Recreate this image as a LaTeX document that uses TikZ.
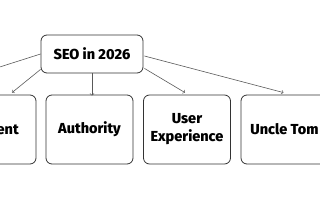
\documentclass[tikz,border=0pt]{standalone}
\usepackage{fontspec}
\setmainfont{Fira Sans}[BoldFont={Fira Sans ExtraBold}]
\usetikzlibrary{positioning,calc}

\tikzset{
    topic/.style={draw=black!80,line width=0.8pt,rounded corners=6pt,
        minimum width=87pt,minimum height=69pt,align=center,
        font=\fontsize{14.5}{18}\selectfont\bfseries},
    root/.style={topic,minimum width=102pt,minimum height=38pt},
    link/.style={->,draw=black!65,line width=0.6pt}
}

\begin{document}
\begin{tikzpicture}[x=1pt,y=1pt]
    \useasboundingbox (0,0) rectangle (320,213);
    \clip (0,0) rectangle (320,213);

    % Root
    \node[root] (seo) at (92,159) {SEO in 2026};

    % Topics
    \node[topic] (content) at (-7.5,83.5) {Content};
    \node[topic] (authority) at (89.5,83.5) {Authority};
    \node[topic] (ux) at (187,83.5) {User\\Experience};
    \node[topic] (uncle) at (284.5,83.5) {Uncle Tom};
    \coordinate (offleft) at (-82,120);

    % Links
    \draw[link] (seo.west) -- (offleft);
    \draw[link] ($(seo.south west)+(0,4)$) -- ($(content.north)+(19.5,2)$);
    \draw[link] (seo.south) -- ($(seo.south |- authority.north)+(0,-1)$);
    \draw[link] ($(seo.south east)+(1,5)$) -- ($(ux.north)+(-2,2)$);
    \draw[link] ($(seo.east)+(1,-2)$) -- ($(uncle.north)+(-1,2)$);

\end{tikzpicture}
\end{document}
